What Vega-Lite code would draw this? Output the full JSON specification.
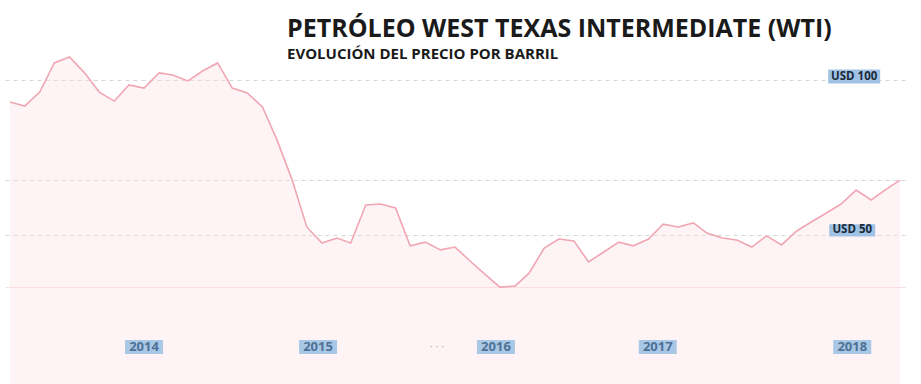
{
  "$schema": "https://vega.github.io/schema/vega-lite/v6.json",
  "width": 900,
  "height": 370,
  "autosize": {"type": "none"},
  "padding": {"left": 5, "top": 0, "right": 16, "bottom": 14},
  "background": "white",
  "config": {"view": {"stroke": null}},
  "title": {
    "text": "PETRÓLEO WEST TEXAS INTERMEDIATE (WTI)",
    "subtitle": "EVOLUCIÓN DEL PRECIO POR BARRIL",
    "anchor": "start",
    "frame": "group",
    "orient": "top",
    "offset": 0,
    "dx": 282,
    "dy": 62,
    "font": "Open Sans",
    "fontSize": 25,
    "fontWeight": "bold",
    "color": "#1a1a1a",
    "subtitleFont": "Open Sans",
    "subtitleFontSize": 15,
    "subtitleFontWeight": "bold",
    "subtitleColor": "#1a1a1a",
    "subtitlePadding": 5
  },
  "datasets": {
    "wti": [
      {"date": "2013-04-01", "usd": 92.9},
      {"date": "2013-05-01", "usd": 91.6},
      {"date": "2013-06-01", "usd": 96.1},
      {"date": "2013-07-01", "usd": 105.5},
      {"date": "2013-08-01", "usd": 107.4},
      {"date": "2013-09-01", "usd": 102.3},
      {"date": "2013-10-01", "usd": 96.1},
      {"date": "2013-11-01", "usd": 93.2},
      {"date": "2013-12-01", "usd": 98.4},
      {"date": "2014-01-01", "usd": 97.4},
      {"date": "2014-02-01", "usd": 102.3},
      {"date": "2014-03-01", "usd": 101.6},
      {"date": "2014-04-01", "usd": 99.7},
      {"date": "2014-05-01", "usd": 102.9},
      {"date": "2014-06-01", "usd": 105.5},
      {"date": "2014-07-01", "usd": 97.4},
      {"date": "2014-08-01", "usd": 95.8},
      {"date": "2014-09-01", "usd": 91.3},
      {"date": "2014-10-01", "usd": 80.6},
      {"date": "2014-11-01", "usd": 67.7},
      {"date": "2014-12-01", "usd": 52.6},
      {"date": "2015-01-01", "usd": 47.4},
      {"date": "2015-02-01", "usd": 49.0},
      {"date": "2015-03-01", "usd": 47.4},
      {"date": "2015-04-01", "usd": 59.7},
      {"date": "2015-05-01", "usd": 60.0},
      {"date": "2015-06-01", "usd": 58.7},
      {"date": "2015-07-01", "usd": 46.5},
      {"date": "2015-08-01", "usd": 47.7},
      {"date": "2015-09-01", "usd": 45.2},
      {"date": "2015-10-01", "usd": 46.1},
      {"date": "2015-11-01", "usd": 41.6},
      {"date": "2015-12-01", "usd": 37.4},
      {"date": "2016-01-01", "usd": 33.2},
      {"date": "2016-02-01", "usd": 33.5},
      {"date": "2016-03-01", "usd": 37.7},
      {"date": "2016-04-01", "usd": 45.8},
      {"date": "2016-05-01", "usd": 48.7},
      {"date": "2016-06-01", "usd": 48.1},
      {"date": "2016-07-01", "usd": 41.3},
      {"date": "2016-08-01", "usd": 44.5},
      {"date": "2016-09-01", "usd": 47.7},
      {"date": "2016-10-01", "usd": 46.5},
      {"date": "2016-11-01", "usd": 48.7},
      {"date": "2016-12-01", "usd": 53.5},
      {"date": "2017-01-01", "usd": 52.6},
      {"date": "2017-02-01", "usd": 53.9},
      {"date": "2017-03-01", "usd": 50.6},
      {"date": "2017-04-01", "usd": 49.0},
      {"date": "2017-05-01", "usd": 48.4},
      {"date": "2017-06-01", "usd": 46.1},
      {"date": "2017-07-01", "usd": 49.7},
      {"date": "2017-08-01", "usd": 46.8},
      {"date": "2017-09-01", "usd": 51.3},
      {"date": "2017-10-01", "usd": 54.2},
      {"date": "2017-11-01", "usd": 57.1},
      {"date": "2017-12-01", "usd": 60.0},
      {"date": "2018-01-01", "usd": 64.5},
      {"date": "2018-02-01", "usd": 61.3},
      {"date": "2018-03-01", "usd": 64.5},
      {"date": "2018-04-01", "usd": 67.7}
    ],
    "years": [
      {"year": "2014", "date": "2014-01-01"},
      {"year": "2015", "date": "2014-12-24"},
      {"year": "2016", "date": "2015-12-24"},
      {"year": "2017", "date": "2016-11-20"},
      {"year": "2018", "date": "2017-12-24"}
    ],
    "usd": [
      {"label": "USD 100", "value": 100},
      {"label": "USD 50", "value": 50}
    ]
  },
  "layer": [
    {
      "data": {"name": "wti"},
      "mark": {"type": "area", "color": "#fbdce2", "opacity": 0.35},
      "encoding": {
        "x": {"field": "date", "type": "temporal", "scale": {"nice": false}, "axis": null},
        "y": {
          "field": "usd",
          "type": "quantitative",
          "scale": {"domain": [6.45, 125.8], "nice": false, "zero": false},
          "axis": {
            "values": [33.2, 50, 67.7, 100],
            "grid": true,
            "domain": false,
            "ticks": false,
            "labels": false,
            "title": null,
            "gridColor": {"condition": {"test": "datum.value < 40", "value": "#fbdde3"}, "value": "#d6d6d6"},
            "gridDash": {"condition": {"test": "datum.value < 40", "value": []}, "value": [4, 4]},
            "gridWidth": 1.2
          }
        }
      }
    },
    {
      "data": {"name": "wti"},
      "mark": {"type": "line", "color": "#f0a6b3", "strokeWidth": 1.6},
      "encoding": {
        "x": {"field": "date", "type": "temporal"},
        "y": {"field": "usd", "type": "quantitative"}
      }
    },
    {
      "data": {"name": "years"},
      "mark": {"type": "bar", "orient": "vertical", "width": 38, "color": "#a9c8e6"},
      "encoding": {
        "x": {"field": "date", "type": "temporal"},
        "y": {"datum": 11.6},
        "y2": {"datum": 16.1}
      }
    },
    {
      "data": {"name": "years"},
      "mark": {"type": "text", "font": "Open Sans", "fontSize": 13, "fontWeight": "bold", "color": "#4e7196", "baseline": "middle", "align": "center"},
      "encoding": {
        "x": {"field": "date", "type": "temporal"},
        "y": {"datum": 13.9},
        "text": {"field": "year"}
      }
    },
    {
      "data": {"name": "usd"},
      "transform": [{"filter": "datum.value == 100"}],
      "mark": {"type": "bar", "orient": "vertical", "width": 52, "color": "#9fc2e5"},
      "encoding": {
        "x": {"datum": {"year": 2017, "month": 12, "date": 28, "utc": true}, "type": "temporal"},
        "y": {"datum": 98.9},
        "y2": {"datum": 103.4}
      }
    },
    {
      "data": {"name": "usd"},
      "transform": [{"filter": "datum.value == 50"}],
      "mark": {"type": "bar", "orient": "vertical", "width": 46, "color": "#9fc2e5"},
      "encoding": {
        "x": {"datum": {"year": 2017, "month": 12, "date": 24, "utc": true}, "type": "temporal"},
        "y": {"datum": 49.5},
        "y2": {"datum": 53.5}
      }
    },
    {
      "data": {"name": "usd"},
      "transform": [{"filter": "datum.value == 100"}],
      "mark": {"type": "text", "font": "Open Sans", "fontSize": 11.5, "fontWeight": "bold", "color": "#1c2a38", "baseline": "middle", "align": "center"},
      "encoding": {
        "x": {"datum": {"year": 2017, "month": 12, "date": 28, "utc": true}, "type": "temporal"},
        "y": {"datum": 101.1},
        "text": {"field": "label"}
      }
    },
    {
      "data": {"name": "usd"},
      "transform": [{"filter": "datum.value == 50"}],
      "mark": {"type": "text", "font": "Open Sans", "fontSize": 11.5, "fontWeight": "bold", "color": "#1c2a38", "baseline": "middle", "align": "center"},
      "encoding": {
        "x": {"datum": {"year": 2017, "month": 12, "date": 24, "utc": true}, "type": "temporal"},
        "y": {"datum": 51.5},
        "text": {"field": "label"}
      }
    },
    {
      "data": {"values": [{"t": "·   ·   ·"}]},
      "mark": {"type": "text", "font": "Open Sans", "fontSize": 11, "color": "#b5b5b5", "baseline": "middle", "align": "center"},
      "encoding": {
        "x": {"datum": {"year": 2015, "month": 8, "date": 25, "utc": true}, "type": "temporal"},
        "y": {"datum": 13.9},
        "text": {"field": "t"}
      }
    }
  ]
}
